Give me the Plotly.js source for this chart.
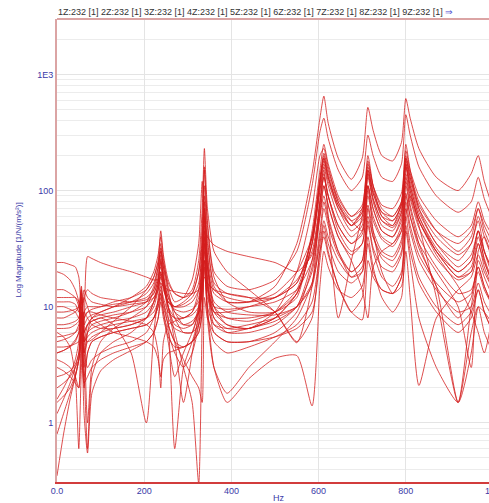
<!DOCTYPE html>
<html>
<head>
<meta charset="utf-8">
<script src="https://cdn.plot.ly/plotly-3.0.1.min.js"></script>
<style>
html,body{margin:0;padding:0;overflow:hidden;background:#fff;}
#chart{width:520px;height:503px;}
</style>
</head>
<body>
<div id="chart"></div>
<script>
// Frequency axis (Hz)
const freqHz = [0, 15, 30, 42, 50, 56, 62, 70, 80, 100, 130, 170, 205, 222, 232, 238, 244, 255, 270, 290, 310, 325, 333, 338, 345, 360, 390, 440, 500, 550, 585, 603, 612, 622, 645, 675, 700, 713, 725, 745, 770, 790, 800, 810, 830, 870, 920, 950, 966, 980, 1000];

// FRF magnitudes, one array per measurement point [1/N/(m/s²)]
const respA = [4.0, 4.2, 4.6, 5.2, 6.0, 7.5, 5.5, 5.0, 5.2, 6.0, 7.5, 10, 14, 18, 24, 30, 22, 15, 11, 12, 17, 35, 120, 60, 35, 15, 11, 11, 15, 35, 140, 420, 650, 380, 190, 125, 190, 520, 330, 200, 180, 260, 620, 420, 230, 130, 100, 140, 200, 120, 70];
const respB = [24, 24, 23, 22, 18, 8, 3, 6, 8, 9, 10, 12, 15, 20, 28, 40, 26, 14, 8, 6, 6, 10, 30, 90, 28, 10, 7, 6.5, 9, 20, 70, 200, 230, 160, 80, 50, 70, 200, 110, 60, 50, 80, 250, 150, 70, 35, 25, 35, 55, 30, 18];
const respC = [1.6, 2.0, 2.6, 3.5, 5, 12, 6, 27, 26, 24, 22, 20, 18, 17, 17, 16, 15, 14, 13.5, 13, 13, 14, 16, 18, 16, 14, 13, 12, 9, 5, 8, 30, 40, 28, 15, 9, 12, 40, 22, 12, 9, 12, 45, 25, 8, 3, 1.5, 4, 10, 6, 4];
const respD = [14, 14, 13, 12, 10, 4, 9, 10, 10, 10, 10.5, 11, 12, 14, 18, 22, 16, 10, 6, 3, 1.5, 0.3, 8, 40, 15, 6, 5, 5, 6, 9, 22, 60, 90, 60, 30, 18, 20, 50, 30, 18, 15, 20, 60, 35, 18, 10, 7, 9, 14, 9, 6];
const respE = [11, 11, 11, 10.5, 9, 14, 5, 7, 8, 8.5, 9, 10, 11, 13, 17, 25, 18, 12, 9, 8, 9, 14, 40, 160, 50, 18, 11, 9, 9, 12, 45, 150, 250, 170, 90, 60, 75, 180, 110, 70, 60, 80, 200, 140, 80, 45, 30, 40, 70, 45, 30];
const respF = [8, 8, 8.5, 9, 10, 15, 4, 6, 7, 7.5, 8, 9, 11, 15, 22, 35, 20, 10, 5, 1.5, 4, 9, 25, 70, 22, 9, 7, 6.5, 8, 13, 35, 100, 170, 120, 70, 50, 65, 160, 100, 65, 55, 75, 180, 120, 65, 35, 22, 28, 45, 25, 15];
const respG = [7, 7, 7.2, 7.5, 8, 11, 6, 1.0, 3, 5, 6.5, 8, 10, 14, 20, 32, 22, 13, 9, 7, 7, 10, 22, 60, 22, 13, 11, 11, 13, 20, 40, 130, 200, 140, 80, 55, 45, 100, 60, 40, 35, 50, 140, 90, 50, 12, 1.5, 6, 10, 9, 7];
const respH = [6, 5.5, 4.5, 2.5, 0.6, 3, 6, 7, 7.5, 8, 7, 4, 1.0, 6, 12, 16, 11, 7, 5, 4.5, 5, 7, 15, 45, 15, 8, 6, 6, 7, 10, 20, 60, 110, 75, 40, 25, 14, 8, 22, 30, 35, 45, 110, 70, 35, 15, 8, 12, 25, 18, 12];
const respI = [5, 5.2, 5.5, 6, 7, 9, 3, 0.6, 2.5, 4, 5, 6, 8, 11, 16, 26, 17, 8, 0.6, 3, 5, 8, 18, 50, 18, 7, 6, 6.5, 7.5, 10, 25, 70, 140, 90, 45, 30, 35, 110, 70, 45, 40, 60, 170, 110, 60, 30, 18, 20, 35, 22, 14];
const respJ = [4.5, 4.5, 4.6, 4.8, 5, 7, 4, 3, 3.5, 4, 4.5, 5, 6, 8, 11, 15, 12, 9, 8, 8, 9, 12, 20, 45, 22, 11, 9, 8.5, 8.5, 10, 16, 35, 55, 40, 25, 18, 22, 60, 40, 28, 25, 35, 90, 60, 35, 20, 10, 3, 30, 40, 25];
const respK = [3.5, 3.3, 3.0, 2.5, 2, 6, 8, 9, 9, 8.5, 8, 7.5, 7, 6, 4, 2, 5, 7, 7.5, 8, 8.5, 10, 20, 80, 25, 10, 8, 7.5, 9, 14, 40, 120, 180, 130, 75, 50, 60, 150, 95, 60, 55, 75, 190, 130, 70, 40, 28, 35, 60, 40, 25];
const respL = [3, 2.8, 2.5, 2.2, 2.0, 4, 2.2, 2.5, 3, 3.5, 4, 4.5, 5, 6, 8, 12, 9, 6, 4, 3, 4, 7, 14, 35, 10, 3, 1.5, 2.4, 3.6, 3.8, 1.4, 15, 30, 22, 14, 12, 15, 35, 20, 14, 13, 18, 50, 30, 16, 9, 6, 8, 14, 9, 6];
const respM = [2.5, 2.6, 2.8, 3.2, 4, 10, 5, 5.5, 6, 6.5, 7, 7.5, 8, 9, 11, 14, 11, 8, 6.5, 6, 6, 7, 10, 25, 12, 9, 9, 10, 12, 17, 30, 80, 130, 90, 50, 35, 45, 130, 80, 50, 45, 65, 160, 100, 55, 28, 15, 9, 6, 4, 9];
const respN = [2, 2.2, 2.5, 3, 3.5, 5, 2.5, 4, 5, 5.5, 6, 6.5, 7, 8, 10, 13, 10, 7, 5, 3.5, 2.5, 2, 1.5, 12, 8, 6, 5, 5, 5.5, 6.5, 9, 25, 45, 30, 15, 9, 7.7, 25, 18, 14, 13, 15, 30, 12, 2.1, 8, 14, 18, 28, 20, 14];
const respO = [1.5, 1.7, 2.0, 2.6, 3.5, 6, 1.2, 0.55, 1.8, 2.8, 3.5, 4.2, 5, 6, 8, 11, 8, 5.5, 4.5, 4.5, 5, 6, 9, 22, 10, 7, 6.5, 7, 8, 10, 15, 40, 70, 50, 28, 20, 25, 75, 45, 30, 27, 38, 95, 60, 32, 15, 1.5, 10, 20, 14, 10];
const respP = [1.2, 1.6, 2.2, 3, 4, 7, 9, 8, 7, 6.5, 6.5, 7, 8, 10, 14, 20, 15, 10, 8, 7, 7.5, 9, 14, 30, 14, 10, 9.5, 10, 11, 14, 25, 65, 110, 75, 40, 28, 35, 90, 55, 38, 33, 45, 120, 75, 40, 22, 13, 14, 22, 15, 10];
const respQ = [0.8, 1.2, 1.8, 2.5, 3.5, 8, 12, 10, 8, 7, 6, 5.5, 5, 4.5, 3.5, 2.5, 3.5, 4, 4.2, 4.5, 5, 6, 9, 25, 9, 5, 4, 4.5, 5.5, 7, 11, 30, 50, 35, 20, 16, 20, 55, 32, 22, 20, 28, 70, 45, 25, 14, 9, 10, 16, 11, 8];
const respR = [0.35, 0.8, 1.6, 2.5, 3.5, 6, 4, 5, 5.5, 6, 6.5, 7, 8, 11, 16, 28, 18, 10, 7, 6.5, 7, 9, 16, 55, 18, 8, 6.5, 6.5, 8, 13, 35, 110, 190, 130, 70, 45, 55, 140, 85, 55, 50, 70, 170, 110, 60, 32, 20, 25, 45, 30, 20];
const respS = [6.5, 6.5, 6.6, 7, 7.5, 12, 7, 8, 8.5, 9, 10, 11, 13, 16, 22, 30, 24, 16, 13, 12, 14, 25, 70, 230, 70, 30, 20, 14, 9, 4.9, 15, 80, 160, 110, 60, 40, 50, 140, 85, 55, 48, 65, 160, 100, 55, 30, 18, 22, 40, 26, 16];
const respT = [10, 10, 9.5, 9, 8, 13, 6, 7, 7.5, 8, 8.5, 9, 10, 12, 15, 20, 15, 11, 9.5, 9, 9.5, 11, 15, 35, 16, 9, 8, 8, 9, 13, 35, 100, 150, 60, 8, 25, 60, 110, 45, 20, 13, 18, 60, 90, 55, 30, 20, 25, 45, 30, 20];
const respU = [20, 19, 17, 14, 11, 5, 12, 14, 13, 12, 11.5, 11, 11.5, 13, 17, 24, 17, 12, 10, 10, 11, 14, 22, 70, 28, 14, 12, 11, 12, 16, 40, 120, 210, 150, 85, 60, 70, 170, 110, 75, 70, 95, 220, 150, 90, 55, 40, 50, 80, 55, 40];
const respV = [9, 9, 9.2, 9.5, 10, 14, 8, 9, 9.5, 10, 11, 12, 14, 18, 25, 45, 28, 17, 13, 12, 13, 20, 50, 150, 55, 20, 15, 14, 17, 30, 110, 320, 420, 280, 150, 100, 130, 300, 200, 130, 120, 170, 450, 300, 160, 90, 65, 80, 130, 85, 55];
const respW = [4, 4.2, 4.5, 5, 6, 9, 2, 4, 5, 5.5, 6, 6.5, 7, 8, 10, 13, 9, 5, 2.5, 4, 6, 9, 15, 40, 8, 3, 1.8, 3, 5, 8, 16, 45, 80, 55, 30, 20, 25, 70, 40, 26, 22, 30, 80, 50, 28, 16, 11, 13, 22, 15, 10];
const respX = [12, 12, 12, 12, 11, 8, 14, 12, 11, 10.5, 10, 10.5, 11, 12, 14, 18, 14, 11, 10, 10.5, 12, 16, 30, 110, 40, 16, 13, 12, 12, 16, 40, 120, 190, 130, 75, 55, 65, 150, 95, 65, 60, 80, 190, 130, 75, 45, 35, 45, 70, 50, 35];
const respY = [5.5, 5.6, 5.8, 6, 6.5, 9, 5, 6, 6.5, 7, 7.5, 8, 9, 11, 14, 19, 15, 11, 10, 11, 13, 20, 36, 60, 40, 34, 30, 27, 24, 20, 28, 80, 130, 90, 50, 35, 42, 110, 70, 45, 40, 55, 130, 85, 48, 26, 17, 20, 35, 24, 16];

const xTickVals = [0, 200, 400, 600, 800, 1000];
const xTickText = ['0.0', '200', '400', '600', '800', '1E3'];
const yTickVals = [1, 10, 100, 1000];
const yTickText = ['1', '10', '100', '1E3'];
const headerLabels = ['1Z:232 [1]', '2Z:232 [1]', '3Z:232 [1]', '4Z:232 [1]', '5Z:232 [1]', '6Z:232 [1]', '7Z:232 [1]', '8Z:232 [1]', '9Z:232 [1]'];

const allResp = [respA, respB, respC, respD, respE, respF, respG, respH, respI, respJ, respK, respL, respM, respN, respO, respP, respQ, respR, respS, respT, respU, respV, respW, respX, respY];

const traces = allResp.map(r => ({
  x: freqHz, y: r, type: 'scatter', mode: 'lines',
  line: {color: 'rgba(212,28,28,0.78)', width: 1, shape: 'spline', smoothing: 0.6},
  hoverinfo: 'skip', showlegend: false
}));

const minorY = [];
[0.1, 1, 10, 100, 1000].forEach(d => { for (let k = 2; k <= 9; k++) minorY.push(d * k); });

const blue = '#3a3aa8';
const layout = {
  width: 520, height: 503,
  margin: {l: 57, r: 20, t: 19, b: 21},
  paper_bgcolor: '#ffffff', plot_bgcolor: '#ffffff',
  showlegend: false,
  xaxis: {
    range: [0, 1016], tickvals: xTickVals, ticktext: xTickText,
    showgrid: true, gridcolor: '#e4e4e4', gridwidth: 1,
    zeroline: false, showline: true, linecolor: '#d23c3c', linewidth: 1.5,
    ticks: '', tickfont: {family: 'Liberation Sans, Arial, sans-serif', size: 9, color: blue},
    title: {text: 'Hz', font: {family: 'Liberation Sans, Arial, sans-serif', size: 9, color: blue}, standoff: 2},
    automargin: false
  },
  yaxis: {
    type: 'log', range: [-0.509, 3.477], tickvals: yTickVals, ticktext: yTickText,
    showgrid: true, gridcolor: '#e4e4e4', gridwidth: 1,
    minor: {tickvals: minorY, showgrid: true, gridcolor: '#ececec', gridwidth: 1, ticks: ''},
    zeroline: false, showline: true, linecolor: '#dba4a4', linewidth: 2,
    ticks: '', tickfont: {family: 'Liberation Sans, Arial, sans-serif', size: 9, color: blue},
    automargin: false
  },
  shapes: [
    {type: 'line', xref: 'paper', yref: 'paper', x0: 0, x1: 1, y0: 1, y1: 1, line: {color: '#dba4a4', width: 2}}
  ],
  annotations: [
    {xref: 'paper', yref: 'paper', x: 0, y: 1, xanchor: 'left', yanchor: 'bottom', showarrow: false,
     xshift: -1, yshift: 0,
     text: headerLabels.join(' ') + ' <span style="color:#4a4ad0">\u21D2</span>',
     font: {family: 'Liberation Sans Narrow, Arial Narrow, sans-serif', size: 9, color: '#333333'}},
    {xref: 'paper', yref: 'paper', x: 0, y: 0.5, xanchor: 'center', yanchor: 'middle', xshift: -39,
     showarrow: false, textangle: -90,
     text: 'Log Magnitude [1/N/(m/s\u00B2)]',
     font: {family: 'Liberation Sans, Arial, sans-serif', size: 8, color: blue}}
  ]
};

Plotly.newPlot('chart', traces, layout, {staticPlot: true, displayModeBar: false});
</script>
</body>
</html>
